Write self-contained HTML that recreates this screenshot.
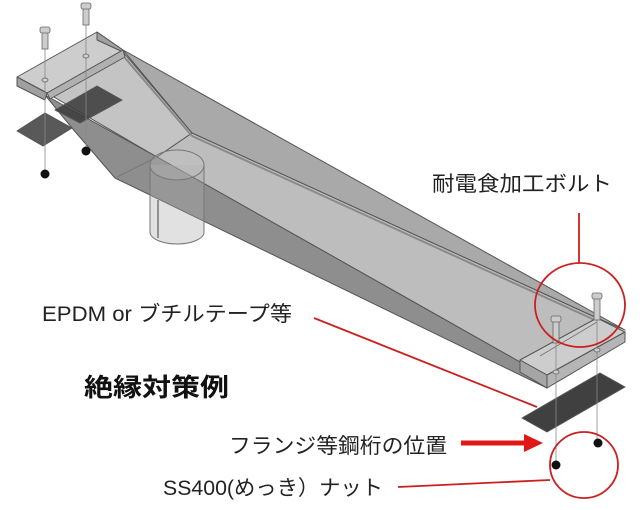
<!DOCTYPE html>
<html><head><meta charset="utf-8"><style>
html,body{margin:0;padding:0;background:#fff;}
svg{display:block;}
text{font-family:"Liberation Sans","Noto Sans CJK JP",sans-serif;fill:#222;}
</style></head><body>
<svg width="640" height="510" viewBox="0 0 640 510" xmlns="http://www.w3.org/2000/svg">
<g stroke="#555" stroke-width="1" stroke-linejoin="round">
<polygon points="123,50 625,330 597,318 192,133" fill="#a9a9a9"/>
<polygon points="47,93 123,52 192,133 157,157" fill="#c4c4c4"/>
<polygon points="157,157 192,133 597,318 520,362" fill="#bdbdbd"/>
<polygon points="45,95 157,157 520,362 547,388 115,178 72,128" fill="#8e8e8e"/>
<line x1="157" y1="157" x2="117" y2="177" stroke="#777"/>
<line x1="192" y1="136" x2="597" y2="321" stroke="#8a8a8a" stroke-width="2"/>
<line x1="125" y1="58" x2="192" y2="136" stroke="#8a8a8a" stroke-width="2"/>
<path d="M150,165 L150,232 A27,12 0 0 0 204,232 L204,165" fill="rgba(170,170,170,0.35)" stroke="#777"/>
<ellipse cx="177" cy="165" rx="27" ry="15" fill="rgba(200,200,200,0.25)" stroke="#777"/>
<line x1="158" y1="200" x2="158" y2="238" stroke="#444"/>
<polygon points="17,77 97,32 123,50 47,93" fill="#cdcdcd"/>
<polygon points="17,77 17,86 45,100 47,93" fill="#a0a0a0"/>
<polygon points="97,32 97,40 123,52 123,50" fill="#a0a0a0"/>
<polygon points="47,93 123,50 125,57 50,99" fill="#b0b0b0"/>
<polygon points="520,360 597,318 625,332 547,375" fill="#cdcdcd"/>
<polygon points="520,360 547,375 547,388 520,372" fill="#a5a5a5"/>
<polygon points="547,375 625,332 625,342 547,388" fill="#b5b5b5"/>
<line x1="540" y1="356" x2="597" y2="322" stroke="#777"/>
<polygon points="17,131 45,113 72,128 43,146" fill="#3c3c3c" fill-opacity="0.85"/>
<polygon points="55,110 97,86 122,100 80,123" fill="#3a3a3a" fill-opacity="0.85"/>
<polygon points="522,418 600,373 625,387 547,432" fill="#404040"/>
</g>
<g stroke="#888" stroke-width="0.8">
<line x1="45" y1="30" x2="45" y2="172"/>
<line x1="86" y1="5" x2="86" y2="150"/>
<line x1="556" y1="320" x2="556" y2="464"/>
<line x1="597" y1="297" x2="597" y2="442"/>
</g>
<g fill="#ccc" stroke="#666" stroke-width="0.8">
<rect x="42" y="32" width="6" height="17"/><rect x="40" y="27" width="10" height="6" rx="2"/>
<rect x="83" y="8" width="6" height="17"/><rect x="81" y="3" width="10" height="6" rx="2"/>
<rect x="553" y="321" width="6" height="22"/><rect x="551" y="316" width="10" height="6" rx="2"/>
<rect x="594" y="298" width="6" height="22"/><rect x="592" y="293" width="10" height="6" rx="2"/>
<ellipse cx="45" cy="80" rx="3" ry="2"/><ellipse cx="86" cy="56" rx="3" ry="2"/>
<ellipse cx="556" cy="372" rx="3" ry="2"/><ellipse cx="597" cy="350" rx="3" ry="2"/>
</g>
<g fill="#111">
<circle cx="45" cy="174" r="4.5"/><circle cx="86" cy="151" r="4.5"/>
<circle cx="556" cy="465" r="4.5"/><circle cx="598" cy="443" r="4.5"/>
</g>
<g stroke="#cc1f1f" stroke-width="1.8" fill="none">
<ellipse cx="580" cy="305" rx="45" ry="42"/>
<line x1="579" y1="213" x2="579" y2="263"/>
<ellipse cx="584" cy="465" rx="34" ry="33"/>
<line x1="398" y1="487" x2="550" y2="480"/>
<line x1="314" y1="318" x2="537" y2="407"/>
</g>
<line x1="461" y1="443" x2="530" y2="443" stroke="#e01818" stroke-width="5"/>
<polygon points="524,434 543,443 524,452" fill="#e01818"/>
<text x="432" y="191" font-size="21" textLength="180" lengthAdjust="spacingAndGlyphs">耐電食加工ボルト</text>
<text x="42" y="321" font-size="21" textLength="250" lengthAdjust="spacingAndGlyphs">EPDM or ブチルテープ等</text>
<text x="84" y="396" font-size="25" font-weight="bold" textLength="145" lengthAdjust="spacingAndGlyphs" style="fill:#111">絶縁対策例</text>
<text x="229" y="453" font-size="21" textLength="218" lengthAdjust="spacingAndGlyphs">フランジ等鋼桁の位置</text>
<text x="163" y="495" font-size="21" textLength="220" lengthAdjust="spacingAndGlyphs">SS400(めっき）ナット</text>
</svg>
</body></html>
